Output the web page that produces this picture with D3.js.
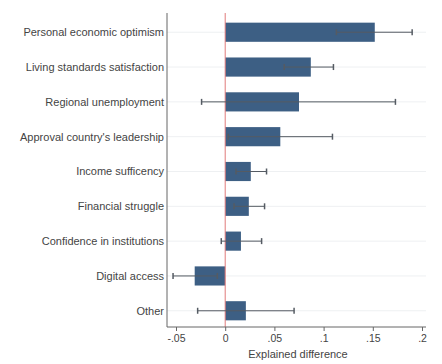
<!DOCTYPE html>
<html>
<head>
<meta charset="utf-8">
<script src="https://cdn.jsdelivr.net/npm/d3@7"></script>
<style>
  html, body { margin: 0; padding: 0; background: #fff; }
  svg { display: block; font-family: "Liberation Sans", Arial, sans-serif; }
</style>
</head>
<body>
<svg id="chart" width="442" height="364"></svg>
<script>
// Decomposition components and their explained difference with 95% CI
const categories = [
  "Personal economic optimism",
  "Living standards satisfaction",
  "Regional unemployment",
  "Approval country's leadership",
  "Income sufficency",
  "Financial struggle",
  "Confidence in institutions",
  "Digital access",
  "Other"
];
const estimates = [0.152, 0.087, 0.075, 0.056, 0.026, 0.024, 0.016, -0.031, 0.021];
const ciLower   = [0.113, 0.060, -0.024, 0.003, 0.011, 0.009, -0.004, -0.053, -0.028];
const ciUpper   = [0.190, 0.110, 0.173, 0.109, 0.042, 0.040, 0.037, -0.008, 0.070];
const xTicks = [-0.05, 0, 0.05, 0.1, 0.15, 0.2];
const xTickLabels = ["-.05", "0", ".05", ".1", ".15", ".2"];

const svg = d3.select("#chart");
const plotLeft = 167, plotRight = 426, plotTop = 13, plotBottom = 327;

const x = d3.scaleLinear().domain([-0.05, 0.2]).range([176, 422]);
const y = d3.scaleBand().domain(categories).range([15, 328]).paddingInner(0.45).paddingOuter(0.22);

// light horizontal gridlines at each category
svg.append("g").selectAll("line").data(categories).join("line")
  .attr("x1", plotLeft).attr("x2", plotRight)
  .attr("y1", d => y(d) + y.bandwidth() / 2)
  .attr("y2", d => y(d) + y.bandwidth() / 2)
  .attr("stroke", "#eef0f2").attr("stroke-width", 1);

// bars
svg.append("g").selectAll("rect").data(categories).join("rect")
  .attr("x", (d, i) => Math.min(x(0), x(estimates[i])))
  .attr("width", (d, i) => Math.abs(x(estimates[i]) - x(0)))
  .attr("y", d => y(d))
  .attr("height", y.bandwidth())
  .attr("fill", "#3d5f84");

// zero reference line
svg.append("line")
  .attr("x1", x(0)).attr("x2", x(0))
  .attr("y1", plotTop).attr("y2", plotBottom)
  .attr("stroke", "#e07a7a").attr("stroke-width", 1);

// confidence intervals
const ci = svg.append("g").attr("stroke", "#555b63").attr("stroke-width", 1);
categories.forEach((c, i) => {
  const cy = y(c) + y.bandwidth() / 2;
  ci.append("line").attr("x1", x(ciLower[i])).attr("x2", x(ciUpper[i]))
    .attr("y1", cy).attr("y2", cy);
  [ciLower[i], ciUpper[i]].forEach(v => {
    ci.append("line").attr("x1", x(v)).attr("x2", x(v))
      .attr("y1", cy - 3).attr("y2", cy + 3).attr("stroke-width", 1.5);
  });
});

// y axis line and category labels
svg.append("line")
  .attr("x1", plotLeft).attr("x2", plotLeft)
  .attr("y1", plotTop).attr("y2", plotBottom)
  .attr("stroke", "#666").attr("stroke-width", 1);

svg.append("g").selectAll("text").data(categories).join("text")
  .attr("x", plotLeft - 3)
  .attr("y", d => y(d) + y.bandwidth() / 2)
  .attr("dy", "0.35em")
  .attr("text-anchor", "end")
  .attr("font-size", 11)
  .attr("fill", "#444")
  .text(d => d);

// x axis
const xAxis = d3.axisBottom(x)
  .tickValues(xTicks)
  .tickFormat((d, i) => xTickLabels[i])
  .tickSize(4)
  .tickPadding(4);

const gx = svg.append("g")
  .attr("transform", `translate(0,${plotBottom})`)
  .call(xAxis);
gx.select(".domain").attr("d", `M${plotLeft},0H${plotRight}`).attr("stroke", "#666");
gx.selectAll(".tick line").attr("stroke", "#666");
gx.selectAll(".tick text").attr("font-size", 10.5).attr("fill", "#444")
  .attr("font-family", "'Liberation Sans', Arial, sans-serif");

svg.append("text")
  .attr("x", 298).attr("y", 358)
  .attr("text-anchor", "middle")
  .attr("font-size", 11)
  .attr("fill", "#444")
  .text("Explained difference");
</script>
</body>
</html>
